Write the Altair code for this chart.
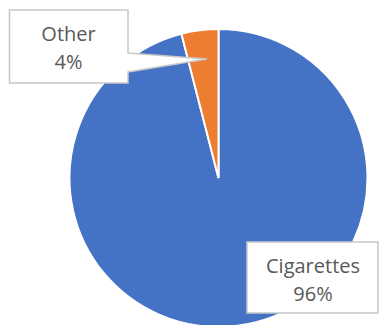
import altair as alt
import pandas as pd

categories = ["Cigarettes", "Other"]
values = [96, 4]
colors = ["#4472C4", "#ED7D31"]

df = pd.DataFrame({"category": categories, "value": values, "order": [0, 1]})

W, H = 380, 325
CX, CY, R = 218.5, 178, 149
FONT = "Open Sans"
TXT = "#595959"

pie = alt.Chart(df).mark_arc(radius=R, stroke="white", strokeWidth=2).encode(
    theta=alt.Theta("value:Q", stack=True),
    order=alt.Order("order:Q"),
    color=alt.Color("category:N", scale=alt.Scale(domain=categories, range=colors), legend=None),
    x=alt.value(CX),
    y=alt.value(CY),
)

# callout boxes (annotation shapes, pixel space)
other_box = [[9.5, 10], [128, 10], [128, 53], [207, 59], [128, 72], [128, 83], [9.5, 83], [9.5, 10]]
cig_box = [[247, 242], [378, 242], [378, 313], [247, 313], [247, 242]]
features = [
    {"type": "Feature", "properties": {}, "geometry": {"type": "Polygon", "coordinates": [other_box]}},
    {"type": "Feature", "properties": {}, "geometry": {"type": "Polygon", "coordinates": [cig_box]}},
]
boxes = alt.Chart(alt.Data(values=features)).mark_geoshape(
    fill="white", stroke="#C8C8C8", strokeWidth=1.5
).project(type="identity", scale=1, translate=[0, 0])


def label(cat, x, y):
    return alt.Chart(df).transform_filter(
        alt.datum.category == cat
    ).transform_calculate(
        lbl="[datum.category, datum.value + '%']"
    ).mark_text(font=FONT, fontSize=20, color=TXT, lineHeight=28, baseline="middle", align="center").encode(
        text="lbl:N", x=alt.value(x), y=alt.value(y)
    )


chart = alt.layer(
    pie, boxes, label("Other", 68.5, 35), label("Cigarettes", 313, 267)
).properties(
    width=W, height=H, padding=0, autosize=alt.AutoSizeParams(type="none")
).configure_view(stroke=None)

chart.save("out.html", embed_options={"renderer": "svg", "actions": False})
